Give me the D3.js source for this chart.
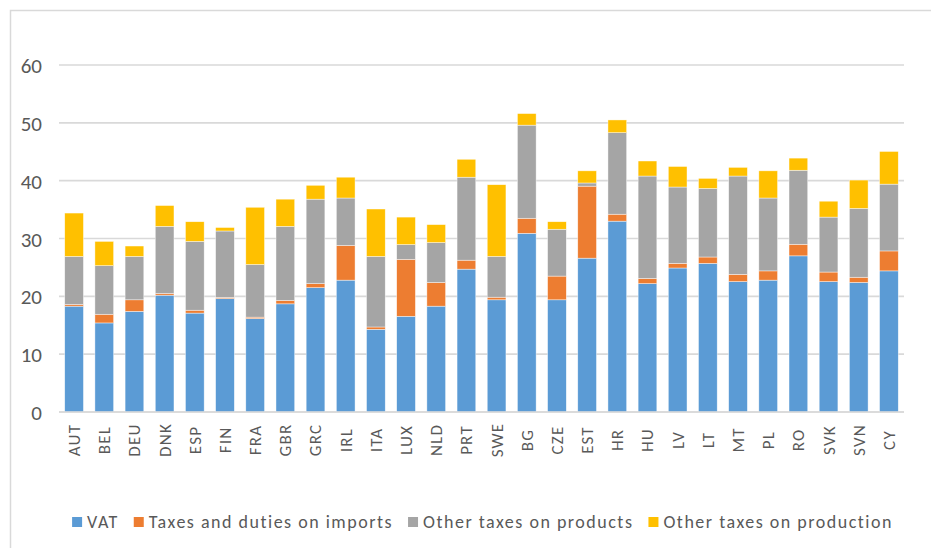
<!DOCTYPE html>
<html><head><meta charset="utf-8">
<script src="https://cdn.jsdelivr.net/npm/d3@7"></script>
<style>body{margin:0;background:#fff}svg{display:block}</style>
</head><body>
<svg id="chart" width="931" height="548"></svg>
<script>
const categories = ["AUT","BEL","DEU","DNK","ESP","FIN","FRA","GBR","GRC","IRL","ITA","LUX","NLD","PRT","SWE","BG","CZE","EST","HR","HU","LV","LT","MT","PL","RO","SVK","SVN","CY"];
const vat =        [18.3,15.4,17.4,20.2,17.1,19.6,16.15,18.7,21.5,22.8,14.3,16.55,18.3,24.7,19.4,30.9,19.4,26.6,33.0,22.2,24.9,25.7,22.55,22.8,27.0,22.55,22.4,24.4];
const imports =    [0.3,1.5,2.0,0.3,0.5,0.2,0.25,0.6,0.7,6.0,0.4,9.85,4.1,1.55,0.45,2.6,4.1,12.45,1.2,0.9,0.8,1.1,1.25,1.6,2.0,1.65,0.9,3.45];
const otherProducts = [8.3,8.4,7.5,11.6,11.9,11.5,9.1,12.8,14.6,8.2,12.2,2.55,6.9,14.35,7.05,16.1,8.1,0.55,14.1,17.7,13.2,11.85,17.0,12.6,12.8,9.5,11.9,11.55];
const otherProduction = [7.5,4.2,1.8,3.6,3.4,0.6,9.9,4.7,2.4,3.6,8.2,4.75,3.1,3.1,12.4,2.0,1.3,2.1,2.2,2.6,3.55,1.75,1.5,4.7,2.1,2.75,4.9,5.65];
const seriesNames = ["VAT","Taxes and duties on imports","Other taxes on products","Other taxes on production"];
const colors = ["#5b9bd5","#ed7d31","#a5a5a5","#ffc000"];
const yTicks = [0,10,20,30,40,50,60];

const svg = d3.select("#chart");
const font = "Carlito, Calibri, 'Liberation Sans Narrow', 'Open Sans', sans-serif";
const margin = {left:59, right:904, top:65, bottom:412};

// chart border
svg.append("path").attr("d","M10.5,548 L10.5,10.5 L931,10.5")
  .attr("fill","none").attr("stroke","#d9d9d9").attr("stroke-width",1.5);

const x = d3.scaleBand().domain(categories).range([margin.left, margin.right]).paddingInner(0.38).paddingOuter(0.19);
const y = d3.scaleLinear().domain([0,60]).range([margin.bottom, margin.top]);

// gridlines
svg.append("g").selectAll("line").data(yTicks).join("line")
  .attr("x1",margin.left).attr("x2",margin.right)
  .attr("y1",d=>y(d)).attr("y2",d=>y(d))
  .attr("stroke","#d9d9d9").attr("stroke-width",1.6);

// y labels
const yAxis = d3.axisLeft(y).tickValues(yTicks).tickSize(0).tickPadding(0);
const yg = svg.append("g").attr("transform","translate(42,0)").call(yAxis);
yg.select(".domain").remove();
yg.selectAll("text").attr("font-family",font).attr("font-size",21).attr("fill","#595959").attr("dy","0.36em");

// stack
const rows = categories.map((c,i)=>({cat:c, s0:vat[i], s1:imports[i], s2:otherProducts[i], s3:otherProduction[i]}));
const stack = d3.stack().keys(["s0","s1","s2","s3"])(rows);
svg.append("g").selectAll("g").data(stack).join("g")
  .attr("fill",(d,i)=>colors[i])
  .selectAll("rect").data(d=>d).join("rect")
  .attr("x",d=>x(d.data.cat)).attr("width",x.bandwidth())
  .attr("y",d=>y(d[1])).attr("height",d=>y(d[0])-y(d[1]))
  .attr("stroke","#fff").attr("stroke-opacity",0.7).attr("stroke-width",0.6);

// baseline
svg.append("line").attr("x1",margin.left).attr("x2",margin.right)
  .attr("y1",y(0)).attr("y2",y(0)).attr("stroke","#d9d9d9").attr("stroke-width",1.6);

// x labels
const xAxis = d3.axisBottom(x).tickSize(0).tickPadding(0);
const xg = svg.append("g").attr("transform",`translate(0,${y(0)})`).call(xAxis);
xg.select(".domain").remove();
xg.selectAll("text")
  .attr("font-family",font).attr("font-size",17).attr("fill","#595959")
  .attr("letter-spacing",1.2)
  .attr("text-anchor","middle").attr("dy","0.35em")
  .attr("transform","translate(0,28) rotate(-90)").attr("x",0).attr("y",0);

// legend
const lg = svg.append("g");
const items = lg.selectAll("g").data(seriesNames).join("g");
items.append("rect").attr("width",10).attr("height",10).attr("y",-5).attr("fill",(d,i)=>colors[i]);
items.append("text").attr("x",15).attr("dy","0.35em").text(d=>d)
  .attr("font-family",font).attr("font-size",18).attr("letter-spacing",1.5).attr("fill","#595959");
let cx = 0;
const gap = 15;
items.each(function(){
  const w = 15 + this.querySelector("text").getComputedTextLength();
  d3.select(this).attr("transform",`translate(${cx},0)`);
  cx += w + gap;
});
const total = cx - gap;
lg.attr("transform",`translate(${482.5-total/2},522)`);
</script>
</body></html>
